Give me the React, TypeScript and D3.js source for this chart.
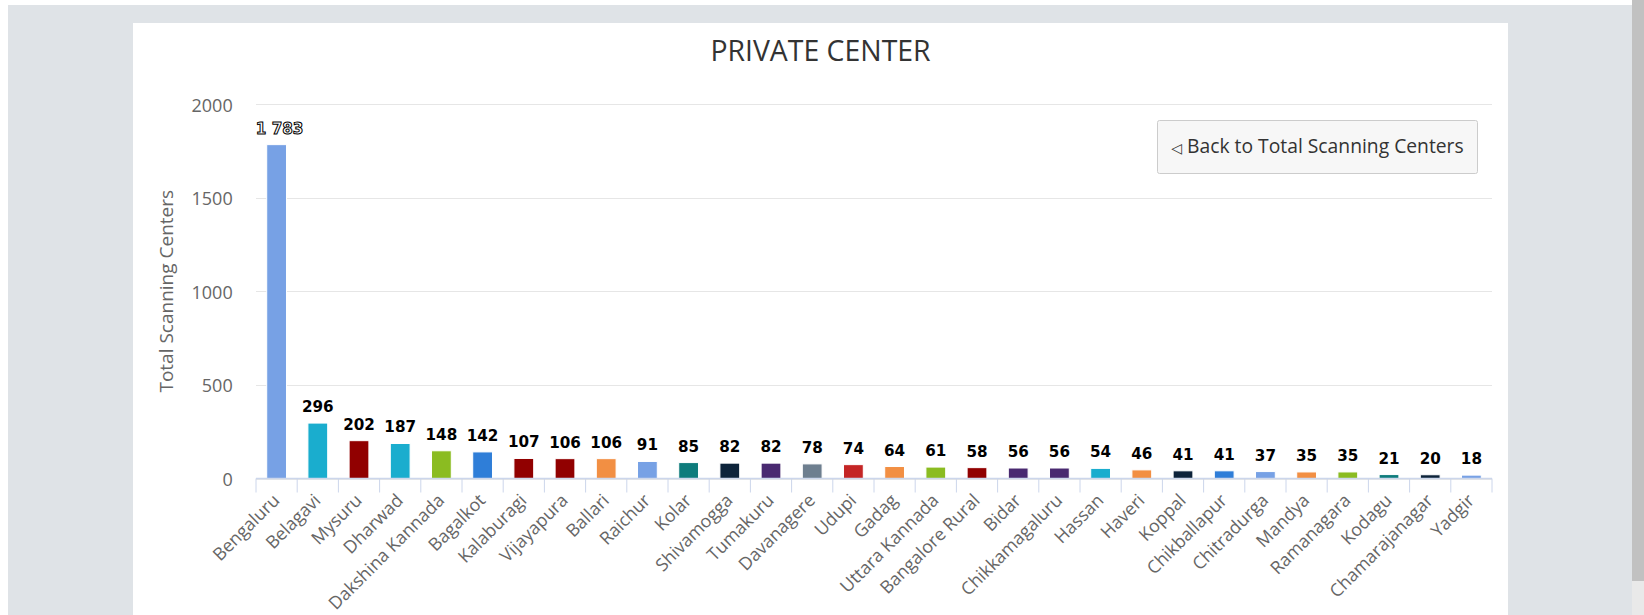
import * as d3 from "d3";

// district-wise private scanning centers
const districts = [
  "Bengaluru", "Belagavi", "Mysuru", "Dharwad", "Dakshina Kannada", "Bagalkot",
  "Kalaburagi", "Vijayapura", "Ballari", "Raichur", "Kolar", "Shivamogga",
  "Tumakuru", "Davanagere", "Udupi", "Gadag", "Uttara Kannada", "Bangalore Rural",
  "Bidar", "Chikkamagaluru", "Hassan", "Haveri", "Koppal", "Chikballapur",
  "Chitradurga", "Mandya", "Ramanagara", "Kodagu", "Chamarajanagar", "Yadgir",
];

const centers = [
  1783, 296, 202, 187, 148, 142, 107, 106, 106, 91, 85, 82, 82, 78, 74, 64, 61,
  58, 56, 56, 54, 46, 41, 41, 37, 35, 35, 21, 20, 18,
];

const barColors = [
  "#77a1e5", "#1aadce", "#910000", "#1aadce", "#8bbc21", "#2f7ed8",
  "#910000", "#910000", "#f28f43", "#77a1e5", "#0e7c7c", "#0d233a",
  "#492970", "#6e7f8f", "#c42525", "#f28f43", "#8bbc21", "#910000",
  "#492970", "#492970", "#1aadce", "#f28f43", "#0d233a", "#2f7ed8",
  "#77a1e5", "#f28f43", "#8bbc21", "#0e7c7c", "#0d233a", "#77a1e5",
];

const yTicks = [0, 500, 1000, 1500, 2000];

const W = 1644;
const H = 615;

const plot = { left: 256, right: 1492, top: 104, bottom: 478.5 };

const OPEN = "'Open Sans', sans-serif";

const fmt = (v: number) => {
  const s = String(v);
  return s.length > 3 ? s.slice(0, s.length - 3) + " " + s.slice(-3) : s;
};

export default function App() {
  const x = d3
    .scaleBand<string>()
    .domain(districts)
    .range([plot.left, plot.right])
    .paddingInner(0.52)
    .paddingOuter(0.26);

  const step = x.step();

  const y = d3.scaleLinear().domain([0, 2000]).range([plot.bottom, plot.top]);

  const tickXs = d3.range(districts.length + 1).map((i) => plot.left + i * step);

  return (
    <div style={{ position: "absolute", left: 0, top: 0, width: W, height: H, overflow: "hidden" }}>
      <svg width={W} height={H} style={{ display: "block" }}>
        {/* page background */}
        <rect x={0} y={0} width={W} height={H} fill="#ffffff" />
        <rect x={8} y={5} width={1624} height={H - 5} fill="#dfe3e7" />
        <rect x={1632} y={0} width={12} height={581} fill="#c1c1c1" />
        <rect x={1632} y={581} width={12} height={H - 581} fill="#e9e9e9" />

        {/* chart panel */}
        <rect x={133} y={23} width={1375} height={H - 23} fill="#ffffff" />

        <text
          x={820.5}
          y={60.5}
          textAnchor="middle"
          fontFamily={OPEN}
          fontSize={28.4}
          fill="#333333"
        >
          PRIVATE CENTER
        </text>

        {/* grid + y labels */}
        {yTicks.map((t) => (
          <g key={t}>
            <line
              x1={plot.left}
              x2={plot.right}
              y1={Math.round(y(t)) + 0.5}
              y2={Math.round(y(t)) + 0.5}
              stroke="#e6e6e6"
              strokeWidth={1}
            />
            <text
              x={232.7}
              y={y(t) + 7.5}
              textAnchor="end"
              fontFamily={OPEN}
              fontSize={18}
              fill="#666666"
            >
              {t}
            </text>
          </g>
        ))}

        <text
          transform={`translate(172.5, ${(plot.top + plot.bottom) / 2}) rotate(-90)`}
          textAnchor="middle"
          fontFamily={OPEN}
          fontSize={19}
          fill="#666666"
        >
          Total Scanning Centers
        </text>

        {/* bars */}
        {districts.map((d, i) => (
          <rect
            key={d}
            x={x(d)}
            y={y(centers[i])}
            width={x.bandwidth()}
            height={plot.bottom - y(centers[i])}
            fill={barColors[i]}
            stroke="#ffffff"
            strokeWidth={1}
          />
        ))}

        {/* x axis */}
        <line
          x1={plot.left}
          x2={plot.right}
          y1={plot.bottom}
          y2={plot.bottom}
          stroke="#ccd6eb"
          strokeWidth={1.5}
        />
        {tickXs.map((tx, i) => (
          <line
            key={i}
            x1={tx}
            x2={tx}
            y1={plot.bottom}
            y2={plot.bottom + 14}
            stroke="#ccd6eb"
            strokeWidth={1}
          />
        ))}

        {districts.map((d) => {
          const cx = (x(d) as number) + x.bandwidth() / 2;
          return (
            <text
              key={d}
              transform={`translate(${cx + 4}, ${plot.bottom + 23}) rotate(-45)`}
              textAnchor="end"
              fontFamily={OPEN}
              fontSize={17.8}
              fill="#666666"
            >
              {d}
            </text>
          );
        })}

        {/* data labels */}
        {districts.map((d, i) => {
          const cx = (x(d) as number) + x.bandwidth() / 2;
          const outlined = i === 0;
          return (
            <text
              key={d}
              x={outlined ? cx + 3 : cx}
              y={y(centers[i]) - 11}
              textAnchor="middle"
              fontFamily="'DejaVu Sans', sans-serif"
              fontWeight="bold"
              fontSize={15.2}
              fill={outlined ? "#ffffff" : "#000000"}
              stroke={outlined ? "#000000" : "none"}
              strokeWidth={outlined ? 1 : 0}
            >
              {fmt(centers[i])}
            </text>
          );
        })}

        {/* drill-up button */}
        <rect
          x={1157.5}
          y={120.5}
          width={320}
          height={53}
          rx={2}
          fill="#f7f7f7"
          stroke="#cccccc"
          strokeWidth={1}
        />
        <text
          x={1317.5}
          y={153}
          textAnchor="middle"
          fontFamily={OPEN}
          fontSize={19.3}
          fill="#333333"
        >
          <tspan fontFamily="'DejaVu Sans', sans-serif" fontSize={14}>
            ◁
          </tspan>{" "}
          Back to Total Scanning Centers
        </text>
      </svg>
    </div>
  );
}
